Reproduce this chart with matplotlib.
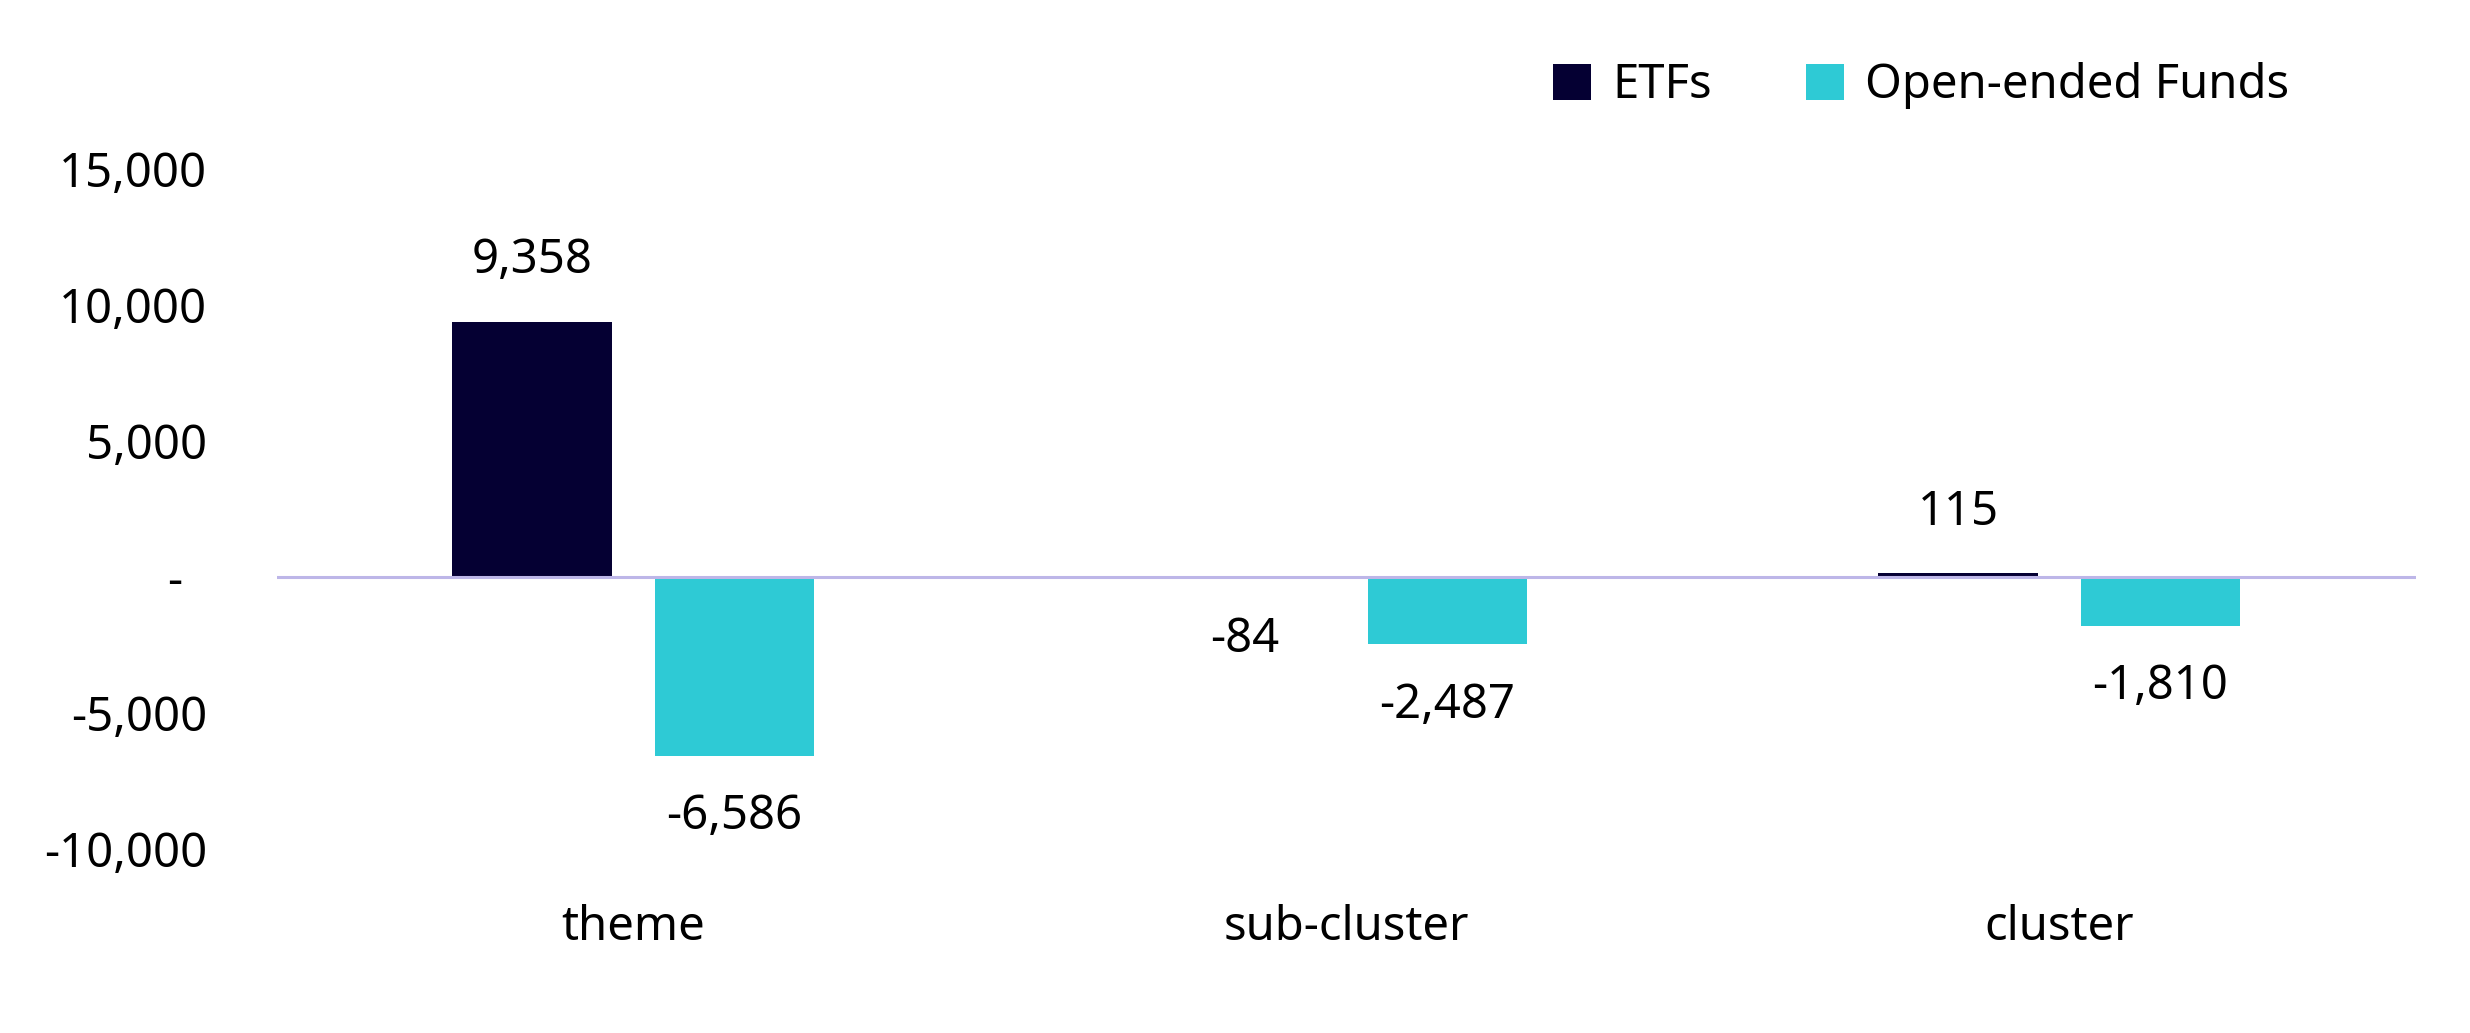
import matplotlib
matplotlib.use("Agg")
import matplotlib.pyplot as plt
from matplotlib.patches import Patch
import numpy as np

categories = ["theme", "sub-cluster", "cluster"]
etf_values = [9358, -84, 115]
oef_values = [-6586, -2487, -1810]
series_names = ["ETFs", "Open-ended Funds"]
y_ticks = [-10000, -5000, 0, 5000, 10000, 15000]

ETF_COLOR = "#050033"
OEF_COLOR = "#2ECAD5"
ZERO_COLOR = "#BDB6E8"

plt.rcParams["font.family"] = ["Noto Sans", "DejaVu Sans"]
FS = 34

fig = plt.figure(figsize=(24.7, 10.33), dpi=100)
ax = fig.add_axes([0.112, 0.1785, 0.866, 0.6583])

x = np.arange(len(categories))
width = 0.224
offset = 0.142

ax.bar(x - offset, etf_values, width, color=ETF_COLOR, zorder=2)
ax.bar(x + offset, oef_values, width, color=OEF_COLOR, zorder=2)
ax.axhline(0, color=ZERO_COLOR, linewidth=2.2, zorder=3)

# data labels just outside the bar ends
for xs, vals in [(x - offset, etf_values), (x + offset, oef_values)]:
    for xi, v in zip(xs, vals):
        dy = 44 if v >= 0 else -44
        ax.annotate(f"{v:,.0f}", (xi, v), xytext=(0, dy),
                    textcoords="offset points", ha="center", va="center",
                    fontsize=FS, color="black")

ax.set_xlim(-0.5, len(categories) - 0.5)
ax.set_ylim(min(y_ticks), max(y_ticks))
ax.set_yticks(y_ticks)
# accounting style: zero shown as a dash
ax.set_yticklabels(["-  " if t == 0 else f"{t:,.0f}" for t in y_ticks], fontsize=FS)
ax.set_xticks(x)
ax.set_xticklabels(categories, fontsize=FS)
ax.tick_params(axis="both", length=0)
ax.tick_params(axis="y", pad=50)
ax.tick_params(axis="x", pad=40)
for s in ax.spines.values():
    s.set_visible(False)

handles = [Patch(facecolor=ETF_COLOR), Patch(facecolor=OEF_COLOR)]
fig.legend(handles, series_names, loc="center right", bbox_to_anchor=(0.944, 0.917),
           ncol=2, frameon=False, fontsize=FS, handlelength=0.8, handleheight=0.8,
           handletextpad=0.45, columnspacing=2.0)

fig.savefig("out.png", dpi=100)
